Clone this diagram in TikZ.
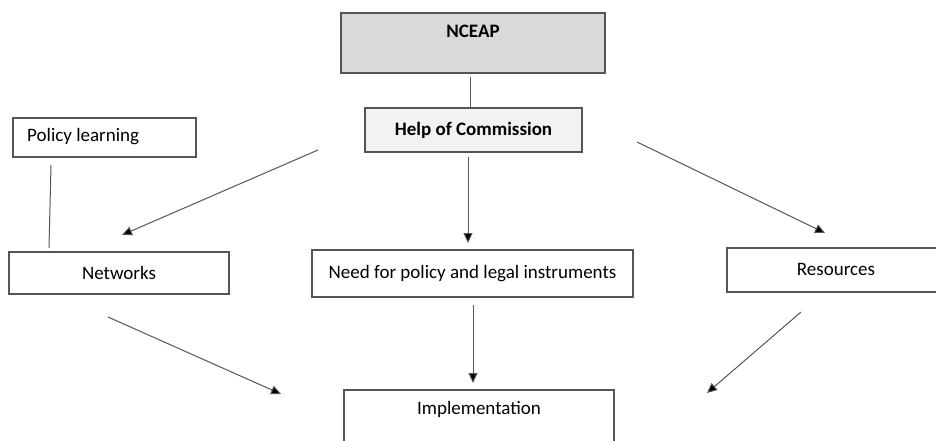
\documentclass[tikz,border=0pt]{standalone}
\usepackage{fontspec}
\setmainfont{Carlito}
\usetikzlibrary{arrows.meta}
\definecolor{edge}{HTML}{555555}
\definecolor{topfill}{HTML}{D9D9D9}
\definecolor{subfill}{HTML}{F2F2F2}
\tikzset{
  box/.style={draw=edge, line width=1.1pt, fill=white, inner sep=0pt, font=\fontsize{19}{21}\selectfont},
  label text/.style={inner sep=0pt, font=\fontsize{19}{21}\selectfont},
  link/.style={draw=edge, line width=1pt},
  flow/.style={link, -{Triangle[length=10pt,width=9pt,fill=black]}},
}
\begin{document}
\begin{tikzpicture}[x=1pt,y=-1pt]
  \useasboundingbox (0,0) rectangle (936,441);
  \clip (0,0) rectangle (936,441);

  % top of the hierarchy
  \node[box, fill=topfill, minimum width=264pt, minimum height=60pt] (nceap) at (473,43) {};
  \node[label text, font=\fontsize{19}{21}\selectfont\bfseries] (nceaptext) at (473,31) {NCEAP};
  \node[box, fill=subfill, minimum width=217pt, minimum height=44pt,
        font=\fontsize{19}{21}\selectfont\bfseries] (help) at (473.5,130) {Help of Commission};

  % middle row
  \node[box, minimum width=183pt, minimum height=39pt] (policy) at (104.5,137.5) {};
  \node[label text, anchor=west] (policytext) at (27,137) {Policy learning};
  \node[box, minimum width=220pt, minimum height=42pt] (networks) at (119,273) {Networks};
  \node[box, minimum width=321pt, minimum height=47pt] (need) at (472.5,273.5)
        {Need for policy and legal instruments};
  \node[box, minimum width=240pt, minimum height=44pt] (resources) at (847,270) {};
  \node[label text] (resourcestext) at (836,269) {Resources};

  % bottom
  \node[box, minimum width=270pt, minimum height=80pt] (impl) at (479,430) {};
  \node[label text] (impltext) at (479,409) {Implementation};

  % free connector ends
  \coordinate (nc-b) at (470,77);
  \coordinate (hp-t) at (470,107);
  \coordinate (pl-b) at (51,165);
  \coordinate (nw-t) at (49,248);
  \coordinate (h-l) at (318,150);
  \coordinate (nw-a) at (122,235);
  \coordinate (h-m) at (468,157);
  \coordinate (nd-a) at (468,243);
  \coordinate (h-r) at (637,142);
  \coordinate (rs-a) at (825,233);
  \coordinate (nw-s) at (108,317);
  \coordinate (im-l) at (281,394);
  \coordinate (nd-s) at (473,305);
  \coordinate (im-m) at (473,383);
  \coordinate (rs-s) at (801,312);
  \coordinate (im-r) at (707,393);

  % connectors
  \draw[link] (nc-b) -- (hp-t);
  \draw[link] (pl-b) -- (nw-t);
  \draw[flow] (h-l) -- (nw-a);
  \draw[flow] (h-m) -- (nd-a);
  \draw[flow] (h-r) -- (rs-a);
  \draw[flow] (nw-s) -- (im-l);
  \draw[flow] (nd-s) -- (im-m);
  \draw[flow] (rs-s) -- (im-r);
\end{tikzpicture}
\end{document}
